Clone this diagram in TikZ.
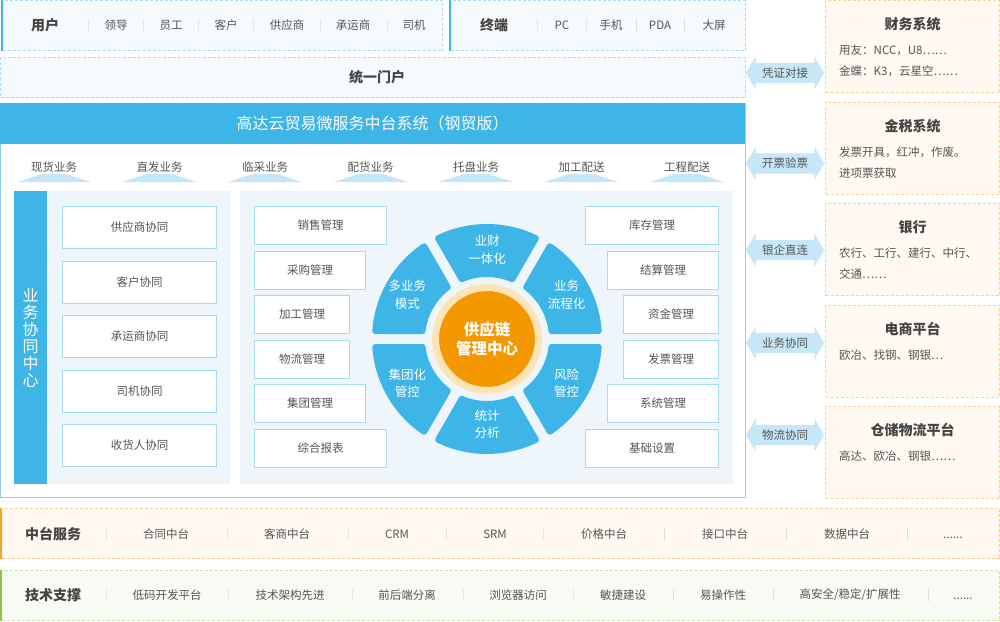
\documentclass[tikz,border=0pt]{standalone}
\usepackage{fontspec}
\setmainfont{Noto Sans CJK SC}
\usepackage{tikz}
\usetikzlibrary{arrows.meta,positioning,calc,shapes.geometric,shapes.arrows}
\definecolor{mainblue}{HTML}{3DB5E7}
\definecolor{lineblue}{HTML}{A6DAF2}
\definecolor{sysline}{HTML}{8ED0EE}
\definecolor{dashblue}{HTML}{A9DDF5}
\definecolor{topfill}{HTML}{F7FAFD}
\definecolor{panelblue}{HTML}{EEF6FC}
\definecolor{tabblue}{HTML}{C6E6F7}
\definecolor{linkblue}{HTML}{C5E7F8}
\definecolor{hubor}{HTML}{F39800}
\definecolor{hubring}{HTML}{FDE3B6}
\definecolor{extline}{HTML}{F8D49A}
\definecolor{extfill}{HTML}{FFF9F1}
\definecolor{svcline}{HTML}{F7CD8C}
\definecolor{svcfill}{HTML}{FFF9F2}
\definecolor{svcbar}{HTML}{F5A623}
\definecolor{techline}{HTML}{C9E6A6}
\definecolor{techfill}{HTML}{F8FBF4}
\definecolor{techbar}{HTML}{8DC63F}
\definecolor{txtgray}{HTML}{555555}
\definecolor{headgray}{HTML}{444444}
\definecolor{sepgray}{HTML}{DDDDDD}
\tikzset{
  >=Stealth,
  every node/.append style={font=\fontsize{11.5}{13}\selectfont, text=txtgray},
}
\tikzset{
  topbox/.style={rectangle, draw=dashblue, fill=topfill, line width=1pt, dash pattern=on 3pt off 2pt,
                 anchor=north west, inner sep=0},
  rowhead/.style={inner sep=0, text=headgray, font=\bfseries\fontsize{14}{16}\selectfont},
  sepbar/.style={draw=sepgray, line width=1pt, minimum height=12pt, minimum width=0pt, inner sep=0},
  bar/.style={line width=2pt}
}

\begin{document}
\begin{tikzpicture}[
  x=1pt, y=-1pt,
  panel/.style={rectangle, draw=none, fill=panelblue, anchor=north west, inner sep=0},
  item/.style={rectangle, draw=lineblue, fill=white, line width=1pt, anchor=north west,
               minimum height=42pt, inner sep=0},
  mgmt/.style={item, minimum height=38pt},
  tab/.style={trapezium, trapezium left angle=45, trapezium right angle=45, trapezium stretches=true,
              fill=tabblue, minimum width=74pt, minimum height=8pt, inner sep=1pt},
  tablbl/.style={inner sep=0, label distance=1pt},
  seg/.style={fill=mainblue, draw=mainblue, line width=6pt, line join=round},
  seglbl/.style={text=white, align=center, inner sep=0, font=\fontsize{12.5}{17.5}\selectfont},
  hub/.style={circle, fill=hubor, draw=hubring, line width=7pt, minimum size=103pt, align=center,
              text=white, font=\bfseries\fontsize{15.5}{19}\selectfont},
  link/.style={double arrow, fill=linkblue, draw=none, minimum height=78pt, minimum width=33pt,
               double arrow head extend=6.5pt, double arrow tip angle=120, inner xsep=0, inner ysep=4.5pt},
  sysext/.style={rectangle, draw=extline, fill=extfill, line width=1pt, dash pattern=on 3pt off 2pt,
                 anchor=north west, minimum width=174pt, minimum height=92pt, inner sep=0},
  systitle/.style={inner sep=0, text=headgray, font=\bfseries\fontsize{14}{16}\selectfont},
  sysinfo/.style={anchor=north west, align=left, inner sep=0, font=\fontsize{11.5}{21}\selectfont}
]
\fill[white] (0,0) rectangle (1000,621);
\useasboundingbox (0,0) rectangle (1000,621);

% ============= Users / Terminal =============
\node[topbox, minimum width=440pt, minimum height=50pt] (users) at (2,0) {};
\draw[bar, mainblue] (users.north west) -- (users.south west);
\node[rowhead] (usr) at (45,25) {用户};
\node[sepbar] (us1) at (88,25) {};
\node (u1) at (116,25) {领导};
\node[sepbar] (us2) at (143,25) {};
\node (u2) at (171,25) {员工};
\node[sepbar] (us3) at (198,25) {};
\node (u3) at (226,25) {客户};
\node[sepbar] (us4) at (253,25) {};
\node (u4) at (287,25) {供应商};
\node[sepbar] (us5) at (320,25) {};
\node (u5) at (353,25) {承运商};
\node[sepbar] (us6) at (387,25) {};
\node (u6) at (414,25) {司机};

\node[topbox, minimum width=295pt, minimum height=50pt] (term) at (450,0) {};
\draw[bar, mainblue] (term.north west) -- (term.south west);
\node[rowhead] (trm) at (494,25) {终端};
\node[sepbar] (ts1) at (537,25) {};
\node (t1) at (562,25) {PC};
\node[sepbar] (ts2) at (586,25) {};
\node (t2) at (611,25) {手机};
\node[sepbar] (ts3) at (636,25) {};
\node (t3) at (660,25) {PDA};
\node[sepbar] (ts4) at (684,25) {};
\node (t4) at (714,25) {大屏};

% portal
\node[topbox, minimum width=745pt, minimum height=40pt] (portal) at (0,57) {};
\node[rowhead] (portaltxt) at (377,77) {统一门户};

% ============= Main system =============
\node[rectangle, draw=sysline, fill=white, line width=1.2pt, anchor=north west,
      minimum width=745pt, minimum height=394pt] (sys) at (0,103) {};
\node[rectangle, fill=mainblue, anchor=north west, minimum width=745pt, minimum height=41pt,
      text=white, font=\fontsize{16}{18}\selectfont] (title) at (0,103) {高达云贸易微服务中台系统（钢贸版）};

% business tabs
\node[tab, label={[tablbl]above:现货业务}] (tab1) at (54,178) {};
\node[tab, label={[tablbl]above:直发业务}] (tab2) at (159.5,178) {};
\node[tab, label={[tablbl]above:临采业务}] (tab3) at (265,178) {};
\node[tab, label={[tablbl]above:配货业务}] (tab4) at (370.5,178) {};
\node[tab, label={[tablbl]above:托盘业务}] (tab5) at (476,178) {};
\node[tab, label={[tablbl]above:加工配送}] (tab6) at (581.5,178) {};
\node[tab, label={[tablbl]above:工程配送}] (tab7) at (687,178) {};

% collaboration centre
\node[rectangle, fill=mainblue, anchor=north west, minimum width=33pt, minimum height=293pt, inner sep=0,
      align=center, text=white, font=\fontsize{16}{17}\selectfont] (collab) at (14,191) {业\\务\\协\\同\\中\\心};
\node[panel, minimum width=183pt, minimum height=293pt] (cpanel) at (47,191) {};
\node[item, minimum width=154pt] (sup) at (62,206) {供应商协同};
\node[item, minimum width=154pt, below=11.5pt of sup] (cus) {客户协同};
\node[item, minimum width=154pt, below=11.5pt of cus] (car) {承运商协同};
\node[item, minimum width=154pt, below=11.5pt of car] (drv) {司机协同};
\node[item, minimum width=154pt, below=11.5pt of drv] (rcv) {收货人协同};

% management panel
\node[panel, minimum width=493pt, minimum height=293pt] (mpanel) at (240,191) {};
\node[mgmt, minimum width=132pt] (sale) at (254,206) {销售管理};
\node[mgmt, minimum width=111pt, below=5.5pt of sale.south west, anchor=north west] (buy) {采购管理};
\node[mgmt, minimum width=95pt, below=5.5pt of buy.south west, anchor=north west] (proc) {加工管理};
\node[mgmt, minimum width=95pt, below=5.5pt of proc.south west, anchor=north west] (logi) {物流管理};
\node[mgmt, minimum width=111pt, below=5.5pt of logi.south west, anchor=north west] (grp) {集团管理};
\node[mgmt, minimum width=132pt, below=5.5pt of grp.south west, anchor=north west] (rpt) {综合报表};

\node[mgmt, minimum width=133pt, anchor=north east] (stock) at (719,206) {库存管理};
\node[mgmt, minimum width=111pt, below=5.5pt of stock.south east, anchor=north east] (settle) {结算管理};
\node[mgmt, minimum width=95pt, below=5.5pt of settle.south east, anchor=north east] (fund) {资金管理};
\node[mgmt, minimum width=95pt, below=5.5pt of fund.south east, anchor=north east] (inv) {发票管理};
\node[mgmt, minimum width=111pt, below=5.5pt of inv.south east, anchor=north east] (sysm) {系统管理};
\node[mgmt, minimum width=133pt, below=5.5pt of sysm.south east, anchor=north east] (base) {基础设置};

% ring of six segments
\coordinate (ring) at (487,339);
\draw[seg] ($(ring)+(64.1:112pt)$) arc[start angle=64.1, end angle=115.9, radius=112pt]
  -- ($(ring)+(112.93:65pt)$) arc[start angle=112.93, end angle=67.07, radius=65pt] -- cycle;
\draw[seg] ($(ring)+(4.1:112pt)$) arc[start angle=4.1, end angle=55.9, radius=112pt]
  -- ($(ring)+(52.93:65pt)$) arc[start angle=52.93, end angle=7.07, radius=65pt] -- cycle;
\draw[seg] ($(ring)+(-55.9:112pt)$) arc[start angle=-55.9, end angle=-4.1, radius=112pt]
  -- ($(ring)+(-7.07:65pt)$) arc[start angle=-7.07, end angle=-52.93, radius=65pt] -- cycle;
\draw[seg] ($(ring)+(-115.9:112pt)$) arc[start angle=-115.9, end angle=-64.1, radius=112pt]
  -- ($(ring)+(-67.07:65pt)$) arc[start angle=-67.07, end angle=-112.93, radius=65pt] -- cycle;
\draw[seg] ($(ring)+(-175.9:112pt)$) arc[start angle=-175.9, end angle=-124.1, radius=112pt]
  -- ($(ring)+(-127.07:65pt)$) arc[start angle=-127.07, end angle=-172.93, radius=65pt] -- cycle;
\draw[seg] ($(ring)+(124.1:112pt)$) arc[start angle=124.1, end angle=175.9, radius=112pt]
  -- ($(ring)+(172.93:65pt)$) arc[start angle=172.93, end angle=127.07, radius=65pt] -- cycle;

\node[seglbl] (s1) at ($(ring)+(90:89pt)$) {业财\\一体化};
\node[seglbl] (s2) at ($(ring)+(29:91pt)$) {业务\\流程化};
\node[seglbl] (s3) at ($(ring)+(-29:91pt)$) {风险\\管控};
\node[seglbl] (s4) at ($(ring)+(-90:85pt)$) {统计\\分析};
\node[seglbl] (s5) at ($(ring)+(-151:91pt)$) {集团化\\管控};
\node[seglbl] (s6) at ($(ring)+(151:91pt)$) {多业务\\模式};
\node[hub] (hub) at (ring) {供应链\\管理中心};

% ============= Links to outside systems =============
\node[link] (l1) at (785,73) {凭证对接};
\node[link] (l2) at (785,163.5) {开票验票};
\node[link] (l3) at (785,250) {银企直连};
\node[link] (l4) at (785,343) {业务协同};
\node[link] (l5) at (785,435) {物流协同};

\node[sysext] (fin) at (825,0) {};
\node[sysext, below=8.5pt of fin] (tax) {};
\node[sysext, below=8.5pt of tax] (bank) {};
\node[sysext, below=8.5pt of bank] (shop) {};
\node[sysext, below=8.5pt of shop] (ware) {};

\node[systitle] (fint) at ([yshift=-24.5pt]fin.north) {财务系统};
\node[sysinfo] (fini) at ([xshift=14pt,yshift=-45pt]fin.north west) {用友：NCC，U8……\\金蝶：K3，云星空……};
\node[systitle] (taxt) at ([yshift=-24.5pt]tax.north) {金税系统};
\node[sysinfo] (taxi) at ([xshift=14pt,yshift=-45pt]tax.north west) {发票开具，红冲，作废。\\进项票获取};
\node[systitle] (bankt) at ([yshift=-24.5pt]bank.north) {银行};
\node[sysinfo] (banki) at ([xshift=14pt,yshift=-45pt]bank.north west) {农行、工行、建行、中行、\\交通……};
\node[systitle] (shopt) at ([yshift=-24.5pt]shop.north) {电商平台};
\node[sysinfo] (shopi) at ([xshift=14pt,yshift=-45pt]shop.north west) {欧冶、找钢、钢银…};
\node[systitle] (waret) at ([yshift=-24.5pt]ware.north) {仓储物流平台};
\node[sysinfo] (warei) at ([xshift=14pt,yshift=-45pt]ware.north west) {高达、欧冶、钢银……};

% ============= Middle platform services =============
\node[topbox, draw=svcline, fill=svcfill, minimum width=998pt, minimum height=50pt] (svc) at (1,508) {};
\draw[bar, svcbar] (svc.north west) -- (svc.south west);
\node[rowhead] (svch) at (53,534) {中台服务};
\node[sepbar] (vs1) at (106,534) {};
\node (v1) at (166,534) {合同中台};
\node[sepbar] (vs2) at (227,534) {};
\node (v2) at (287,534) {客商中台};
\node[sepbar] (vs3) at (348,534) {};
\node (v3) at (397,534) {CRM};
\node[sepbar] (vs4) at (446,534) {};
\node (v4) at (495,534) {SRM};
\node[sepbar] (vs5) at (543,534) {};
\node (v5) at (604,534) {价格中台};
\node[sepbar] (vs6) at (664,534) {};
\node (v6) at (725,534) {接口中台};
\node[sepbar] (vs7) at (786,534) {};
\node (v7) at (847,534) {数据中台};
\node[sepbar] (vs8) at (907,534) {};
\node (v8) at (953,538) {......};

% ============= Technical support =============
\node[topbox, draw=techline, fill=techfill, minimum width=998pt, minimum height=50pt] (tech) at (1,570) {};
\draw[bar, techbar] (tech.north west) -- (tech.south west);
\node[rowhead] (techh) at (53,595) {技术支撑};
\node[sepbar] (ks1) at (106,595) {};
\node (k1) at (167,595) {低码开发平台};
\node[sepbar] (ks2) at (228,595) {};
\node (k2) at (290,595) {技术架构先进};
\node[sepbar] (ks3) at (352,595) {};
\node (k3) at (407,595) {前后端分离};
\node[sepbar] (ks4) at (463,595) {};
\node (k4) at (518,595) {浏览器访问};
\node[sepbar] (ks5) at (573,595) {};
\node (k5) at (623,595) {敏捷建设};
\node[sepbar] (ks6) at (673,595) {};
\node (k6) at (723,595) {易操作性};
\node[sepbar] (ks7) at (773,595) {};
\node (k7) at (850,595) {高安全/稳定/扩展性};
\node[sepbar] (ks8) at (928,595) {};
\node (k8) at (963,599) {......};

\end{tikzpicture}
\end{document}
